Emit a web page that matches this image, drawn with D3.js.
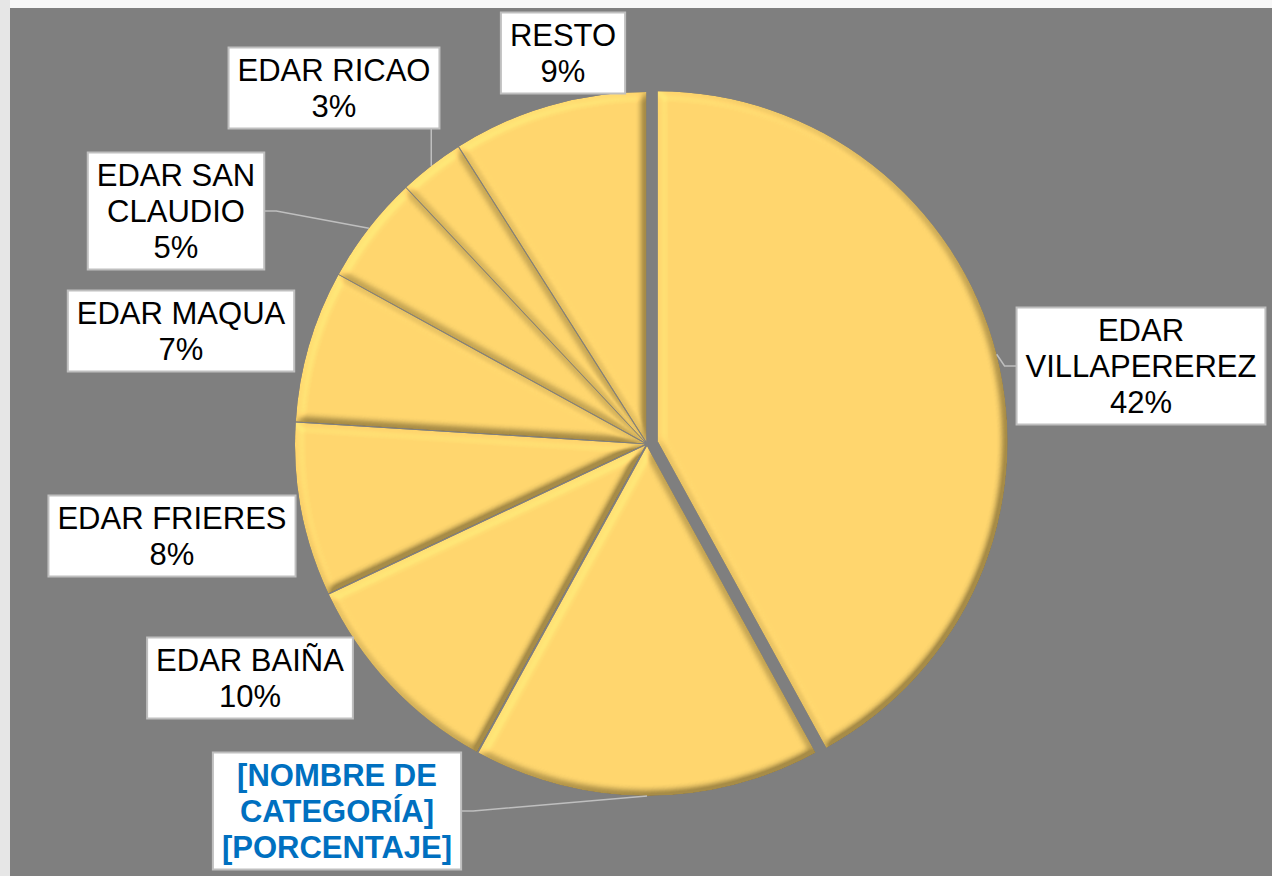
<!DOCTYPE html>
<meta charset="utf-8">
<head>
  <style>
    body { margin: 0; background: #f3f3f3; }
    .lbl-text {
      font-family: "Liberation Sans", Arial, sans-serif;
      font-size: 31px;
      fill: #000000;
    }
    .lbl-text.placeholder { font-weight: bold; fill: #0070C0; }
  </style>
</head>
<script src="https://d3js.org/d3.v7.min.js"></script>

<div id="my_dataviz"></div>
<script>
// chart size
const WIDTH = 1272;
const HEIGHT = 876;
const RADIUS = 350;
const CX = 647, CY = 444;

// data (clockwise from 12 o'clock)
const categories = ["EDAR VILLAPEREREZ", "[NOMBRE DE CATEGORÍA]", "EDAR BAIÑA", "EDAR FRIERES",
                    "EDAR MAQUA", "EDAR SAN CLAUDIO", "EDAR RICAO", "RESTO"];
const values = [42, 16, 10, 8, 7, 5, 3, 9];
const labelLines = [
  ["EDAR", "VILLAPEREREZ", "42%"],
  ["[NOMBRE DE", "CATEGORÍA]", "[PORCENTAJE]"],
  ["EDAR BAIÑA", "10%"],
  ["EDAR FRIERES", "8%"],
  ["EDAR MAQUA", "7%"],
  ["EDAR SAN", "CLAUDIO", "5%"],
  ["EDAR RICAO", "3%"],
  ["RESTO", "9%"]
];

// layout of the label boxes (hand placed in the original, box centers)
const labelCenter = [[1141, 366], [337, 811], [250, 678], [172, 536], [181, 331], [176, 211], [334, 88], [563, 53]];
const hasLeader = [true, true, false, false, false, true, true, false];
const explode = [11, 2, 2, 2, 2, 2, 2, 2];

var svg = d3.select("#my_dataviz")
  .append("svg")
  .attr("width", WIDTH)
  .attr("height", HEIGHT);

// light frame + gray plot background
svg.append("rect").attr("width", WIDTH).attr("height", HEIGHT).attr("fill", "#f7f7f7");
svg.append("rect").attr("width", 10).attr("height", HEIGHT).attr("fill", "#e6e6e6");
svg.append("rect").attr("x", 10).attr("y", 8).attr("width", WIDTH - 10).attr("height", HEIGHT - 8).attr("fill", "#7f7f7f");

// bevel filter (diffuse light from top-left, multiplied on the fill)
var defs = svg.append("defs");
var f = defs.append("filter").attr("id", "bevel")
  .attr("x", "-10%").attr("y", "-10%").attr("width", "120%").attr("height", "120%");
f.append("feGaussianBlur").attr("in", "SourceAlpha").attr("stdDeviation", 4.5).attr("result", "blur");
f.append("feDiffuseLighting").attr("in", "blur").attr("surfaceScale", 10).attr("diffuseConstant", 1)
  .attr("lighting-color", "white").attr("result", "light")
  .append("feDistantLight").attr("azimuth", 225).attr("elevation", 50);
f.append("feComposite").attr("in", "SourceGraphic").attr("in2", "light")
  .attr("operator", "arithmetic").attr("k1", 0.8).attr("k2", 0.39).attr("k3", 0).attr("k4", 0).attr("result", "lit");
f.append("feComposite").attr("in", "lit").attr("in2", "SourceAlpha").attr("operator", "in");

var data = categories.map((c, i) => ({ key: c, value: values[i], i: i }));

var pie = d3.pie().sort(null).value(d => d.value);
var data_ready = pie(data);

var arc = d3.arc().innerRadius(0).outerRadius(RADIUS);

function offset(d) {
  var mid = (d.startAngle + d.endAngle) / 2;
  var e = explode[d.data.i];
  return [Math.sin(mid) * e, -Math.cos(mid) * e];
}

var g = svg.append("g").attr("transform", `translate(${CX}, ${CY})`);

g.selectAll("path.slice")
  .data(data_ready)
  .enter()
  .append("path")
  .attr("class", "slice")
  .attr("d", arc)
  .attr("transform", d => `translate(${offset(d)})`)
  .attr("fill", "#ffd66e")
  .attr("filter", "url(#bevel)");

// labels
var lg = svg.append("g");
data_ready.forEach(function(d) {
  var i = d.data.i;
  var lines = labelLines[i];
  var c = labelCenter[i];
  var grp = lg.append("g");
  var rect = grp.append("rect");
  var lineH = 36;
  var texts = grp.selectAll("text")
    .data(lines)
    .enter()
    .append("text")
    .attr("class", i === 1 ? "lbl-text placeholder" : "lbl-text")
    .attr("text-anchor", "middle")
    .attr("x", c[0])
    .attr("y", (t, k) => c[1] + (k - (lines.length - 1) / 2) * lineH + 11)
    .text(t => t);
  var w = d3.max(texts.nodes(), n => n.getComputedTextLength()) + 18;
  var h = lines.length * lineH + 9;
  var box = { x0: c[0] - w / 2, x1: c[0] + w / 2, y0: c[1] - h / 2, y1: c[1] + h / 2 };
  rect.attr("x", box.x0).attr("y", box.y0).attr("width", w).attr("height", h)
    .attr("fill", "white").attr("stroke", "#bfbfbf").attr("stroke-width", 2);

  if (hasLeader[i]) {
    var mid = (d.startAngle + d.endAngle) / 2;
    var o = offset(d);
    var px = CX + o[0] + Math.sin(mid) * RADIUS;
    var py = CY + o[1] - Math.cos(mid) * RADIUS;
    var pts;
    if (px > box.x1) pts = [[box.x1, c[1]], [box.x1 + 12, c[1]], [px, py]];
    else if (px < box.x0) pts = [[box.x0, c[1]], [box.x0 - 12, c[1]], [px, py]];
    else pts = [[px, py > box.y1 ? box.y1 : box.y0], [px, py]];
    lg.insert("path", ":first-child")
      .attr("d", d3.line()(pts))
      .attr("fill", "none")
      .attr("stroke", "#bfbfbf")
      .attr("stroke-width", 1.5);
  }
});
</script>
